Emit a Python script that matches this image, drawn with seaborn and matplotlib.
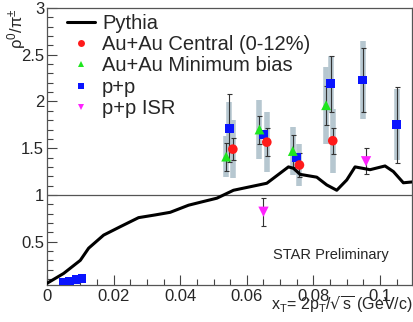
import numpy as np
import pandas as pd
import matplotlib
matplotlib.use("Agg")
import matplotlib.pyplot as plt
import seaborn as sns
from matplotlib.ticker import MultipleLocator, FixedLocator, FixedFormatter
from matplotlib.lines import Line2D

sns.set_theme(style="ticks")
plt.rcParams['font.family'] = ['Liberation Sans', 'DejaVu Sans']

# Pythia curve
pythia_x = [0.0, 0.005, 0.010, 0.0125, 0.017, 0.022, 0.0275, 0.0325, 0.037, 0.0425, 0.047,
            0.051, 0.056, 0.066, 0.0725, 0.074, 0.076, 0.081, 0.084, 0.087, 0.090, 0.0925,
            0.097, 0.1015, 0.104, 0.107, 0.110]
pythia_y = [0.054, 0.16, 0.30, 0.43, 0.57, 0.66, 0.757, 0.786, 0.814, 0.89, 0.93,
            0.965, 1.05, 1.125, 1.30, 1.285, 1.22, 1.19, 1.107, 1.05, 1.16, 1.30,
            1.27, 1.31, 1.25, 1.13, 1.14]

# Au+Au central (0-12%)
cen_x = [0.0558, 0.066, 0.0758, 0.0858]
cen_y = [1.49, 1.565, 1.32, 1.58]
cen_stat = [0.12, 0.15, 0.13, 0.14]
cen_sys = [0.31, 0.32, 0.22, 0.34]

# Au+Au minimum bias
mb_x = [0.0538, 0.0638, 0.0738, 0.0838]
mb_y = [1.41, 1.70, 1.47, 1.96]
mb_stat = [0.15, 0.15, 0.17, 0.21]
mb_sys = [0.22, 0.32, 0.26, 0.41]

# p+p
pp_x = [0.0050, 0.0068, 0.0087, 0.0105, 0.0547, 0.065, 0.075, 0.0852, 0.0948, 0.105]
pp_y = [0.06, 0.07, 0.095, 0.105, 1.715, 1.65, 1.40, 2.19, 2.23, 1.75]
pp_stat = [0, 0, 0, 0, 0.36, 0.0, 0.0, 0.30, 0.34, 0.41]
pp_sys = [0, 0, 0, 0, 0.28, 0.0, 0.0, 0.30, 0.42, 0.38]

# p+p ISR
isr_x = [0.065, 0.0958]
isr_y = [0.82, 1.36]
isr_stat = [0.15, 0.14]

fig = plt.figure(figsize=(4.13, 3.22), dpi=100)
ax = fig.add_axes([0.1138, 0.1149, 0.8838, 0.8601])

sys_color = '#b6c7d0'
# systematic bars
for xs, ys, ss in [(pp_x, pp_y, pp_sys), (mb_x, mb_y, mb_sys), (cen_x, cen_y, cen_sys)]:
    for x, y, s in zip(xs, ys, ss):
        if s > 0:
            ax.vlines(x, y - s, y + s, color=sys_color, linewidth=4.0, zorder=1)
# statistical bars
for xs, ys, ss in [(pp_x, pp_y, pp_stat), (mb_x, mb_y, mb_stat), (cen_x, cen_y, cen_stat), (isr_x, isr_y, isr_stat)]:
    for x, y, s in zip(xs, ys, ss):
        if s > 0:
            ax.errorbar(x, y, yerr=s, fmt='none', ecolor='#333333', elinewidth=0.8,
                        capsize=1.8, capthick=0.8, zorder=2)

ax.axhline(1.0, color='#555555', linewidth=0.9, zorder=1)

sns.lineplot(x=pythia_x, y=pythia_y, ax=ax, color='black', linewidth=2.2, zorder=3)

sns.scatterplot(x=pp_x, y=pp_y, ax=ax, marker='s', color='#0a14ff', s=40, edgecolor='none', zorder=4)
sns.scatterplot(x=mb_x, y=mb_y, ax=ax, marker='^', color='#1ee61e', s=50, edgecolor='none', zorder=4)
sns.scatterplot(x=cen_x, y=cen_y, ax=ax, marker='o', color='#ff1a1a', s=48, edgecolor='none', zorder=5)
sns.scatterplot(x=isr_x, y=isr_y, ax=ax, marker='v', color='#ff22ff', s=55, edgecolor='none', zorder=4)

ax.set_xlim(0, 0.1096)
ax.set_ylim(0.036, 3.0)

ax.xaxis.set_major_locator(FixedLocator([0, 0.02, 0.04, 0.06, 0.08, 0.1]))
ax.xaxis.set_major_formatter(FixedFormatter(['0', '0.02', '0.04', '0.06', '0.08', '0.1']))
ax.xaxis.set_minor_locator(MultipleLocator(0.005))
ax.yaxis.set_major_locator(FixedLocator([0.5, 1, 1.5, 2, 2.5, 3]))
ax.yaxis.set_major_formatter(FixedFormatter(['0.5', '1', '1.5', '2', '2.5', '3']))
ax.yaxis.set_minor_locator(MultipleLocator(0.1))
ax.tick_params(which='major', direction='in', length=7, width=0.8, labelsize=12, color='#444444', pad=3)
ax.tick_params(which='minor', direction='in', length=4, width=0.8, color='#444444')
ax.tick_params(axis='y', pad=2)
for sp in ax.spines.values():
    sp.set_color('#555555')
    sp.set_linewidth(0.9)

ax.set_xlabel('')
ax.set_ylabel('')
fig.text(0.999, 0.022, r'x$_\mathregular{T}$= 2p$_\mathregular{T}$/$\mathregular{\sqrt{s}}$ (GeV/c)',
         ha='right', va='bottom', fontsize=11.5)
fig.text(0.012, 0.975, r'$\mathregular{\rho^0/\pi^{\pm}}$', rotation=90, ha='left', va='top', fontsize=12)
ax.text(0.0852, 0.36, 'STAR Preliminary', ha='center', va='center', fontsize=10.5)

handles = [
    Line2D([], [], color='black', linewidth=2.2),
    Line2D([], [], marker='o', color='#ff1a1a', linestyle='none', markersize=5, markeredgewidth=0),
    Line2D([], [], marker='^', color='#1ee61e', linestyle='none', markersize=5, markeredgewidth=0),
    Line2D([], [], marker='s', color='#0a14ff', linestyle='none', markersize=4.5, markeredgewidth=0),
    Line2D([], [], marker='v', color='#ff22ff', linestyle='none', markersize=5, markeredgewidth=0),
]
labels = ['Pythia', 'Au+Au Central (0-12%)', 'Au+Au Minimum bias', 'p+p', 'p+p ISR']
ax.legend(handles, labels, loc='upper left', bbox_to_anchor=(0.055, 0.98), frameon=False,
          fontsize=14.5, handlelength=1.4, handletextpad=0.33, labelspacing=0.12,
          borderaxespad=0, borderpad=0)

fig.savefig('out.png', dpi=100)
